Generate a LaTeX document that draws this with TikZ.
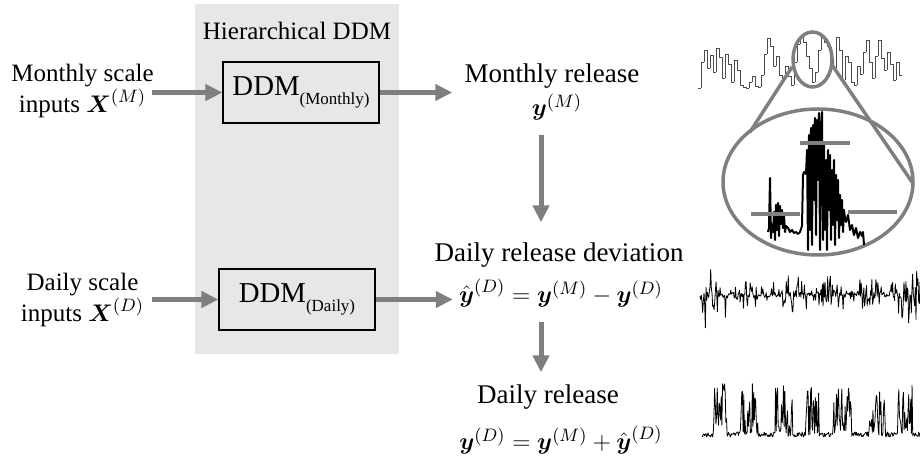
\documentclass[tikz,border=0pt]{standalone}
\usepackage{amsmath}
\usepackage{fontspec}
\IfFontExistsTF{LiberationSerif-Regular.ttf}{%
  \setmainfont{LiberationSerif-Regular.ttf}[BoldFont=LiberationSerif-Bold.ttf, ItalicFont=LiberationSerif-Italic.ttf, BoldItalicFont=LiberationSerif-BoldItalic.ttf]}{%
  \setmainfont{Liberation Serif}}
\usetikzlibrary{arrows.meta,positioning}

\definecolor{flowgray}{HTML}{7F7F7F}
\definecolor{hddmgray}{HTML}{E7E7E7}

\tikzset{
  flow/.style={flowgray, line width=2.5pt, -{Triangle[length=8.5pt,width=8pt]}},
  ddmbox/.style={draw, line width=0.6pt, minimum width=78pt, minimum height=30.5pt, inner sep=0pt, font=\fontsize{14.4}{17}\selectfont},
  inlabel/.style={align=center, inner sep=0pt, font=\fontsize{12.5}{14.5}\selectfont},
  outlabel/.style={inner sep=0pt, font=\fontsize{13.5}{16}\selectfont},
  formula/.style={inner sep=0pt, font=\fontsize{12.8}{15}\selectfont},
  zoomline/.style={flowgray, line width=1.75pt},
  series/.style={black, line width=0.4pt, line join=round},
}
\newcommand{\ddmname}[1]{DDM\raisebox{-4.5pt}{\fontsize{8.5}{10}\selectfont(#1)}}

\begin{document}
\begin{tikzpicture}[x=0.5pt, y=-0.5pt]
\useasboundingbox (0,0) rectangle (920,458);

% hierarchical model frame
\fill[hddmgray] (195,4) rectangle (399,354);
\node[inlabel] (hddm) at (297,31) {Hierarchical DDM};
\node[ddmbox] (mddm) at (301,92.5) {\ddmname{Monthly}};
\node[ddmbox] (dddm) at (297,299.5) {\ddmname{Daily}};

% inputs
\node[inlabel] (minp) at (82.5,91) {Monthly scale\\inputs $\boldsymbol{X}^{(M)}$};
\node[inlabel] (dinp) at (82.5,300) {Daily scale\\inputs $\boldsymbol{X}^{(D)}$};

% outputs
\node[outlabel] (mrelt) at (552,76) {Monthly release};
\node[formula] (mrelf) at (557,107) {$\boldsymbol{y}^{(M)}$};
\node[outlabel] (devt) at (559,255) {Daily release deviation};
\node[formula] (devf) at (561,293) {$\hat{\boldsymbol{y}}^{(D)} = \boldsymbol{y}^{(M)} - \boldsymbol{y}^{(D)}$};
\node[outlabel] (drelt) at (548,397) {Daily release};
\node[formula] (drelf) at (561,440) {$\boldsymbol{y}^{(D)} = \boldsymbol{y}^{(M)} + \hat{\boldsymbol{y}}^{(D)}$};

% connectors
\coordinate (col) at (541,0);
\draw[flow, shorten <=-1pt] (minp.east |- mddm.west) -- (mddm.west);
\draw[flow, shorten <=4pt] (dinp.east |- dddm.west) -- (dddm.west);
\draw[flow, shorten >=6pt] (mddm.east) -- (mddm.east -| mrelt.west);
\draw[flow, shorten >=3pt] (dddm.east) -- (dddm.east -| devf.west);
\draw[flow, shorten <=7pt, shorten >=10pt] (mrelf.south -| col) -- (devt.north -| col);
\draw[flow, shorten <=7pt, shorten >=6pt] (devf.south -| col) -- (drelt.north -| col);

% monthly release series
\foreach \h [count=\i, remember=\h as \hp (initially 2)] in {2,28,40,22,35,18,42,33,12,36,26,8,30,20,5,3,2,8,14,4,3,15,36,52,44,24,34,15,10,24,14,5,28,46,53,48,34,22,8,18,40,53,48,44,32,22,53,40,10,34,28,8,5,24,16,38,50,28,12,34,50,32,20,38,26,10,28,15}{
  \draw[series, black!70] (695+3*\i,90-\hp) -- (695+3*\i,90-\h) -- (698+3*\i,90-\h);
}

% zoom on one month
\draw[zoomline] (812.5,59.5) ellipse [x radius=19.5, y radius=27.5];
\draw[zoomline] (818,182) ellipse [x radius=95, y radius=73];
\draw[zoomline] (792,67) -- (750,132);
\draw[zoomline] (832,65) -- (912,182);
\draw[series, line width=1pt] plot coordinates {(768,232) (769,228) (770,178) (771,238) (772,225) (773,232) (774,212) (775,240) (776,205) (777,230) (778,203) (779,236) (780,206) (781,224) (782,210) (783,228) (784,215) (785,232) (786,226) (788,228) (790,232) (792,230) (794,233) (796,232) (798,234) (800,232) (802,226) (803,175) (804,172) (806,174) (807,150) (808,250) (809,135) (810,230) (811,128) (812,245) (813,125) (814,200) (815,118) (816,235) (817,120) (818,180) (819,113) (820,250) (821,130) (822,112) (823,240) (824,145) (825,230) (826,160) (827,250) (828,150) (829,210) (830,155) (831,240) (832,170) (833,225) (834,160) (835,245) (836,175) (837,220) (838,180) (839,238) (840,195) (841,225) (842,200) (843,232) (844,210) (845,218) (846,222) (848,215) (850,230) (852,225) (854,235) (856,228) (858,238) (860,232) (862,236) (863,232) (864,245)};
\foreach \xa/\xb/\yb in {751/800/214, 800/850/143, 848/897/212}
  \draw[zoomline, line width=2pt] (\xa,\yb) -- (\xb,\yb);

% daily deviation and daily release series
\pgfmathsetseed{3}
\draw[series] plot[domain=700:920, samples=330, variable=\t] (\t, {295 + (rnd-0.5)*(5 + 30*(sin((\t-700)*9)>0.1)*rnd + 45*rnd^4)});
\draw[series] plot[domain=702:920, samples=330, variable=\t] (\t, {437 - 5*rnd - (sin((\t-712)*11.6+30*sin(\t*4)) > -0.1)*50*rnd^1.5});
\end{tikzpicture}
\end{document}
